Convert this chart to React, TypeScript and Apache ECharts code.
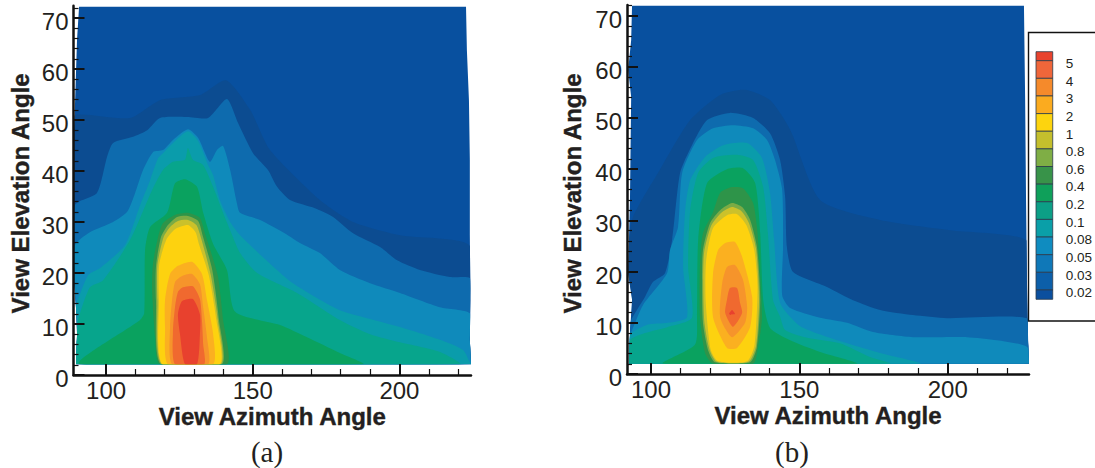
import React, { useEffect, useRef } from "react";
import * as echarts from "echarts";

type Pt = number[];

const legendLabels = ["5", "4", "3", "2", "1", "0.8", "0.6", "0.4", "0.2", "0.1", "0.08", "0.05", "0.03", "0.02"];
// colours from the lowest band to the highest band
const bandColors = ["#08509f", "#0c4c91", "#0e6bae", "#0f8abb", "#0a9cab", "#07a58c", "#0aa25f", "#2e9449", "#7cab45", "#cbc12b", "#fdd20f", "#fbb020", "#f6942b", "#f0692f", "#e8412e"];
const legendColors = ["#0b4f9e", "#0c5fa9", "#0f78b8", "#0f8cc0", "#0a9fa8", "#0c9f86", "#0fa05a", "#389349", "#7fae45", "#c4bf2d", "#fdd40e", "#fbab1f", "#f58a2b", "#f0663a", "#e8432e"];

const majorAz = [100, 150, 200];
const minorAz = [110, 120, 130, 140, 160, 170, 180, 190, 210, 220];
const majorEl = [0, 10, 20, 30, 40, 50, 60, 70];
const minorEl = [2, 4, 6, 8, 12, 14, 16, 18, 22, 24, 26, 28, 32, 34, 36, 38, 42, 44, 46, 48, 52, 54, 56, 58, 62, 64, 66, 68, 72];

// Panel (a): [azimuth, elevation]
const aLeftEdge: Pt[] = [[90.8, 72.2], [90.1, 65.7], [89.8, 60.2], [89.1, 47.4], [88.9, 34.3], [89.1, 18.6], [89.8, 12.7], [90.1, 8.0], [89.8, 2.1]];
const aRightEdge: Pt[] = [[224.4, 2.1], [224.0, 6.9], [224.2, 14.7], [224.0, 27.6], [224.0, 42.2], [223.7, 53.9], [223.0, 63.7], [222.7, 72.2]];
const aBand1: Pt[] = [[89.4, 51.0], [108.2, 50.4], [118.4, 53.9], [132.0, 54.9], [140.9, 57.8], [149.1, 52.0], [155.9, 44.1], [172.9, 34.3], [184.2, 30.0], [200.2, 27.4], [223.7, 25.5]];
const aBand2: Pt[] = [[89.4, 33.3], [96.9, 35.7], [100.3, 42.7], [102.4, 45.5], [109.2, 46.7], [114.0, 48.0], [118.4, 50.4], [127.6, 50.6], [134.8, 50.4], [141.2, 54.1], [145.0, 49.4], [150.1, 43.5], [155.2, 40.2], [158.3, 36.9], [162.7, 34.3], [171.2, 32.7], [177.4, 31.0], [184.2, 27.8], [193.4, 25.1], [199.2, 22.5], [207.0, 20.6], [217.2, 19.2], [224.0, 19.0]];
const aBand3: Pt[] = [[89.4, 25.5], [94.5, 28.0], [102.4, 30.0], [107.2, 32.0], [109.9, 35.7], [112.6, 40.2], [116.0, 43.7], [119.4, 44.1], [122.8, 46.1], [127.9, 48.2], [131.4, 46.5], [135.4, 41.8], [137.8, 44.1], [139.9, 44.9], [142.3, 40.2], [144.6, 33.7], [145.7, 31.8], [152.5, 30.4], [160.3, 28.0], [166.1, 25.9], [172.9, 23.9], [179.7, 20.6], [190.0, 18.0], [200.2, 16.1], [213.8, 13.3], [224.0, 12.1]];
const aBand4: Pt[] = [[89.8, 13.7], [93.9, 19.6], [98.0, 21.0], [106.5, 25.5], [111.6, 33.3], [115.0, 38.2], [117.7, 42.5], [119.4, 43.5], [122.8, 45.5], [127.9, 47.8], [131.4, 45.9], [134.8, 41.2], [136.5, 39.2], [138.8, 34.3], [142.3, 30.0], [145.7, 27.4], [153.5, 23.1], [163.7, 18.0], [179.7, 12.7], [190.0, 11.0], [200.2, 9.4], [213.8, 6.9], [221.7, 4.9], [224.0, 2.5]];
const aBand5: Pt[] = [[90.5, 10.8], [94.5, 17.2], [99.0, 18.6], [108.2, 26.5], [115.7, 36.3], [119.4, 40.2], [122.8, 41.8], [126.9, 42.2], [127.9, 44.5], [129.6, 42.2], [133.1, 41.2], [136.5, 36.9], [139.9, 31.8], [143.0, 27.4], [145.7, 23.9], [151.5, 20.0], [165.1, 16.1], [179.7, 10.8], [190.0, 8.0], [200.2, 6.4], [213.8, 4.5], [220.6, 2.1]];
const aBand6: Pt[] = [[91.1, 2.1], [111.6, 10.8], [113.0, 12.1], [113.3, 24.5], [115.0, 29.0], [120.8, 31.8], [123.5, 37.6], [126.9, 38.4], [131.0, 36.9], [133.1, 31.8], [136.5, 25.7], [141.2, 20.6], [144.0, 12.4], [159.3, 9.8], [168.5, 7.4], [179.7, 4.3], [187.6, 2.1]];
const aBand7: Pt[] = [[118.4, 2.1], [116.7, 7.4], [115.7, 16.7], [116.0, 21.9], [117.7, 27.0], [119.4, 29.8], [123.5, 31.4], [127.9, 31.8], [132.0, 30.8], [133.7, 27.8], [136.1, 23.5], [138.2, 19.2], [139.9, 10.8], [141.2, 2.1]];
const aBand8: Pt[] = [[118.7, 2.1], [117.0, 14.7], [117.0, 21.2], [118.7, 27.0], [121.1, 29.4], [124.2, 31.0], [127.9, 31.2], [131.4, 30.2], [133.0, 27.2], [136.2, 20.6], [138.5, 10.8], [139.5, 2.1]];
const aBand9: Pt[] = [[119.0, 2.1], [117.5, 14.7], [117.5, 21.6], [119.6, 27.0], [121.8, 29.0], [124.5, 30.2], [127.9, 30.4], [130.8, 29.4], [132.5, 26.6], [135.7, 19.6], [138.1, 10.8], [139.1, 2.1]];
const aBand10: Pt[] = [[119.2, 2.1], [118.0, 14.7], [118.1, 21.6], [120.6, 26.6], [123.5, 28.6], [127.9, 29.4], [130.5, 28.0], [131.6, 25.8], [135.0, 19.6], [137.6, 10.8], [138.8, 2.1]];
const aBand11: Pt[] = [[121.1, 2.1], [120.1, 9.4], [120.1, 14.7], [121.8, 19.8], [124.5, 21.4], [129.3, 22.2], [132.7, 19.8], [134.4, 14.7], [136.5, 8.0], [136.5, 2.1]];
const aBand12: Pt[] = [[122.5, 2.1], [121.8, 9.4], [122.5, 14.7], [123.5, 18.2], [125.9, 19.4], [129.3, 19.8], [132.0, 17.8], [133.1, 13.3], [134.4, 7.4], [134.8, 2.1]];
const aBand13: Pt[] = [[123.5, 2.1], [122.8, 8.6], [123.5, 13.3], [124.5, 16.3], [126.2, 17.2], [129.6, 17.4], [132.0, 14.9], [132.7, 10.6], [133.1, 6.1], [133.4, 2.1]];
const aBand14: Pt[] = [[126.9, 2.1], [125.2, 8.0], [124.5, 11.9], [125.9, 14.5], [129.6, 14.9], [132.0, 11.9], [132.0, 8.0], [131.0, 2.1]];

// Panel (b): [azimuth, elevation]
const bLeftEdge: Pt[] = [[93.6, 71.9], [93.3, 65.2], [92.3, 59.4], [93.3, 54.1], [92.9, 34.0], [92.3, 19.7], [93.6, 14.5], [92.9, 8.0], [92.6, 2.0]];
const bRightEdge: Pt[] = [[227.4, 2.0], [227.1, 6.6], [226.7, 18.4], [226.4, 34.0], [226.1, 53.5], [225.7, 71.9]];
const bBand1: Pt[] = [[93.6, 30.1], [103.0, 39.9], [113.2, 49.6], [123.3, 54.5], [131.7, 55.5], [140.1, 53.5], [146.9, 47.7], [157.0, 34.0], [177.2, 30.1], [200.8, 28.1], [226.4, 26.2]];
const bBand2: Pt[] = [[93.0, 10.2], [98.0, 15.1], [100.7, 18.0], [104.7, 19.7], [107.1, 26.2], [109.8, 39.3], [113.8, 44.7], [118.9, 49.6], [126.6, 51.0], [134.4, 50.0], [140.1, 47.0], [143.5, 41.8], [145.2, 34.6], [145.8, 24.8], [147.9, 19.9], [159.3, 17.0], [168.1, 14.4], [177.2, 12.5], [188.3, 11.5], [199.8, 10.9], [226.7, 10.9]];
const bBand3: Pt[] = [[93.3, 8.2], [97.3, 13.5], [105.4, 19.7], [106.4, 24.2], [109.1, 28.7], [110.5, 39.3], [115.5, 45.7], [120.9, 48.0], [127.6, 48.6], [134.4, 48.0], [139.1, 45.7], [141.8, 41.8], [144.2, 36.0], [144.5, 24.8], [144.2, 15.4], [146.9, 12.9], [157.0, 11.0], [166.1, 10.0], [174.8, 8.2], [188.3, 7.2], [206.5, 7.2], [216.6, 6.6], [226.7, 5.3]];
const bBand4: Pt[] = [[92.9, 7.6], [98.7, 9.6], [105.7, 10.0], [112.1, 11.1], [110.8, 20.9], [111.5, 32.0], [113.2, 37.9], [118.2, 42.4], [124.3, 44.7], [132.4, 45.1], [137.4, 42.2], [140.1, 35.4], [141.5, 26.2], [143.5, 13.9], [149.6, 9.6], [154.6, 8.2], [166.1, 6.0], [177.2, 4.1], [190.7, 2.0]];
const bBand5: Pt[] = [[92.9, 6.6], [98.0, 8.0], [105.7, 9.2], [113.8, 11.0], [112.5, 20.9], [113.2, 32.0], [115.9, 39.3], [120.9, 42.2], [129.0, 42.8], [134.4, 41.8], [137.8, 36.5], [139.4, 27.5], [141.1, 14.5], [143.5, 11.2], [145.2, 8.6], [151.9, 7.2], [163.7, 6.0], [173.8, 3.3], [180.6, 2.0]];
const bBand6: Pt[] = [[104.1, 2.0], [114.8, 5.7], [115.5, 11.1], [115.9, 26.2], [118.9, 37.3], [125.6, 40.0], [131.0, 40.2], [135.1, 37.3], [136.8, 27.5], [137.8, 14.5], [140.1, 9.0], [146.9, 6.6], [157.0, 4.3], [169.4, 2.0]];
const bBand7: Pt[] = [[120.9, 2.0], [118.2, 4.1], [116.5, 11.1], [116.5, 21.3], [117.5, 27.5], [120.9, 31.6], [123.3, 35.4], [127.3, 36.5], [131.0, 36.3], [134.4, 33.4], [135.7, 28.7], [136.4, 22.9], [137.4, 11.1], [136.1, 5.3], [134.4, 2.0]];
const bBand8: Pt[] = [[121.6, 2.3], [119.2, 4.7], [117.5, 10.0], [117.2, 17.8], [117.5, 24.2], [119.9, 29.5], [123.3, 32.0], [127.3, 33.4], [130.7, 32.6], [133.4, 30.1], [135.7, 24.8], [136.8, 14.5], [135.7, 5.3], [133.4, 2.3]];
const bBand9: Pt[] = [[122.2, 2.4], [119.7, 4.8], [118.0, 10.0], [117.6, 17.8], [117.9, 23.8], [120.3, 29.0], [123.7, 31.5], [127.3, 32.6], [130.5, 31.8], [133.0, 29.5], [135.4, 24.4], [136.4, 14.5], [135.4, 5.5], [132.9, 2.4]];
const bBand10: Pt[] = [[122.6, 2.5], [120.1, 4.8], [118.4, 14.5], [118.6, 22.3], [120.9, 28.5], [125.6, 31.0], [129.0, 31.2], [132.2, 29.0], [134.8, 24.2], [135.9, 17.0], [134.9, 5.7], [132.4, 2.5]];
const bBand11: Pt[] = [[125.0, 25.6], [128.3, 25.8], [130.7, 22.9], [134.1, 15.0], [133.4, 9.2], [129.0, 5.1], [125.6, 5.1], [120.9, 11.1], [120.9, 19.7], [122.6, 24.2]];
const bBand12: Pt[] = [[125.6, 20.9], [128.3, 21.3], [131.0, 18.4], [132.4, 13.1], [131.7, 10.0], [127.3, 7.2], [123.3, 11.1], [124.0, 17.8]];
const bBand13: Pt[] = [[126.6, 16.8], [129.0, 16.8], [130.0, 13.9], [130.7, 11.9], [127.6, 9.2], [125.0, 11.9], [125.6, 14.5]];
const bBand14: Pt[] = [[127.3, 12.5], [128.3, 11.7], [126.3, 11.7]];

function closeBand(c: Pt[], left: Pt[], right: Pt[]): Pt[] {
  const s = c[0];
  const e = c[c.length - 1];
  const out = [...c];
  if (e[0] > right[0][0] - 4) out.push(...right.filter((p) => p[1] < e[1]).reverse());
  if (s[0] < left[0][0] + 4) out.push(...left.filter((p) => p[1] < s[1]).reverse());
  return out;
}

function panelBands(left: Pt[], right: Pt[], bands: Pt[][]): Pt[][] {
  const domain = [...left, ...right];
  return [domain, ...bands.map((b) => closeBand(b, left, right))];
}

const aBands = panelBands(aLeftEdge, aRightEdge, [aBand1, aBand2, aBand3, aBand4, aBand5, aBand6, aBand7, aBand8, aBand9, aBand10, aBand11, aBand12, aBand13, aBand14]);
const bBands = panelBands(bLeftEdge, bRightEdge, [bBand1, bBand2, bBand3, bBand4, bBand5, bBand6, bBand7, bBand8, bBand9, bBand10, bBand11, bBand12, bBand13, bBand14]);

const SANS = '"Liberation Sans", Arial, sans-serif';
const INK = "#231f20";

function contourSeries(bands: Pt[][], axisIndex: number) {
  return {
    type: "custom",
    xAxisIndex: axisIndex,
    yAxisIndex: axisIndex,
    coordinateSystem: "cartesian2d",
    clip: false,
    silent: true,
    z: 1,
    data: bands.map((b, i) => [b[0][0], b[0][1], i]),
    renderItem: (_: any, api: any) => {
      const i = api.value(2);
      const domain = bands[0].map((p) => api.coord(p));
      return {
        type: "polygon",
        shape: { points: i === 0 ? domain : bands[i].map((p) => api.coord(p)), smooth: i === 0 ? 0 : 0.22 },
        style: { fill: bandColors[i], stroke: "none" },
        clipPath: i === 0 ? undefined : { type: "polygon", shape: { points: domain } },
      };
    },
  };
}

function xAxes(grid: number, min: number, max: number) {
  const common = { gridIndex: grid, type: "value", min, max, splitLine: { show: false }, z: 5 };
  return [
    {
      ...common,
      axisLine: { show: true, onZero: false, lineStyle: { color: "#111", width: 2.5 } },
      axisTick: { show: true, inside: true, length: 11, customValues: majorAz, lineStyle: { color: "#111", width: 2 } },
      axisLabel: { show: true, customValues: majorAz, color: INK, fontFamily: SANS, fontSize: 24, margin: 3, hideOverlap: false },
      name: "View Azimuth Angle",
      nameLocation: "middle",
      nameGap: 29,
      nameMoveOverlap: false,
      nameTextStyle: { color: INK, fontFamily: SANS, fontWeight: "bold", fontSize: 24, textBorderColor: INK, textBorderWidth: 0.4 },
    },
    {
      ...common,
      axisLine: { show: false },
      axisTick: { show: true, inside: true, length: 6, customValues: minorAz, lineStyle: { color: "#111", width: 1.2 } },
      axisLabel: { show: false },
    },
  ];
}

function yAxes(grid: number, max: number, titleShift: number, titleGap: number) {
  const common = { gridIndex: grid, type: "value", min: 0, max, splitLine: { show: false }, z: 5 };
  return [
    {
      ...common,
      axisLine: { show: true, onZero: false, lineStyle: { color: "#111", width: 2.5 } },
      axisTick: { show: true, inside: true, length: 11, customValues: majorEl, lineStyle: { color: "#111", width: 2 } },
      axisLabel: { show: true, customValues: majorEl, color: INK, fontFamily: SANS, fontSize: 24, margin: 5, verticalAlign: "top", padding: [-8.5, 0, 0, 0], hideOverlap: false },
      name: "View Elevation Angle",
      nameLocation: "middle",
      nameGap: titleGap,
      nameMoveOverlap: false,
      nameTextStyle: { color: INK, fontFamily: SANS, fontWeight: "bold", fontSize: 24, textBorderColor: INK, textBorderWidth: 0.4, padding: [0, titleShift, 0, 0] },
    },
    {
      ...common,
      axisLine: { show: false },
      axisTick: { show: true, inside: true, length: 5, customValues: minorEl, lineStyle: { color: "#111", width: 1.2 } },
      axisLabel: { show: false },
    },
  ];
}

export default function App() {
  const ref = useRef<HTMLDivElement>(null);
  useEffect(() => {
    document.body.style.margin = "0";
    document.body.style.background = "#fff";
    const chart = echarts.init(ref.current!, undefined, { renderer: "svg" });
    const [ax0, ax1] = xAxes(0, 88.9, 224.4);
    const [bx0, bx1] = xAxes(1, 91.9, 227.4);
    const [ay0, ay1] = yAxes(0, 72.4, 6, 41);
    const [by0, by1] = yAxes(1, 72.07, 8, 43);
    const top = legendColors.length - 1;
    chart.setOption({
      animation: false,
      backgroundColor: "#fff",
      grid: [
        { left: 73.5, width: 397.5, top: 5.8, height: 369.2 },
        { left: 627, width: 402, top: 5, height: 369 },
        { left: 1036, width: 23.3, top: 51.7, height: 247.6 },
        { left: 73.5, width: 397.5, top: 5.8, height: 369.2, show: false },
        { left: 627, width: 402, top: 5, height: 369, show: false },
      ],
      xAxis: [
        ax0,
        bx0,
        { gridIndex: 2, type: "value", min: 0, max: 1, show: false },
        { ...ax1, gridIndex: 3 },
        { ...bx1, gridIndex: 4 },
      ],
      yAxis: [
        ay0,
        by0,
        {
          gridIndex: 2,
          type: "value",
          inverse: true,
          min: -0.51,
          max: 13.53,
          position: "right",
          splitLine: { show: false },
          axisLine: { show: false },
          axisTick: { show: false },
          axisLabel: {
            customValues: legendLabels.map((_, i) => i),
            formatter: (v: number) => legendLabels[Math.round(v)],
            color: INK,
            fontFamily: SANS,
            fontSize: 13.5,
            margin: 13,
            align: "left",
            verticalAlign: "top",
            padding: [-4.2, 0, 0, 0],
            hideOverlap: false,
          },
        },
        { ...ay1, gridIndex: 3 },
        { ...by1, gridIndex: 4 },
      ],
      series: [
        contourSeries(aBands, 0),
        contourSeries(bBands, 1),
        {
          type: "custom",
          xAxisIndex: 2,
          yAxisIndex: 2,
          coordinateSystem: "cartesian2d",
          silent: true,
          clip: false,
          data: legendColors.map((_, i) => [0, i]),
          renderItem: (_: any, api: any) => {
            const i = api.value(1);
            const y0 = i === 0 ? -0.51 : i - 1;
            const y1 = i === top ? 13.53 : i;
            const a = api.coord([0, y0]);
            const b = api.coord([1, y1]);
            return {
              type: "rect",
              shape: { x: a[0], y: a[1], width: b[0] - a[0], height: b[1] - a[1] },
              style: { fill: legendColors[top - i], stroke: "#2b3a4a", lineWidth: 0.8 },
            };
          },
        },
      ],
      graphic: [
        { type: "rect", silent: true, z: 10, shape: { x: 1028.5, y: 32.5, width: 90, height: 288.5 }, style: { fill: "none", stroke: "#111", lineWidth: 1.4 } },
        { type: "text", silent: true, x: 267, y: 452, style: { text: "(a)", fill: INK, font: '29px "Liberation Serif", serif', textAlign: "center", textVerticalAlign: "middle" } },
        { type: "text", silent: true, x: 792, y: 452, style: { text: "(b)", fill: INK, font: '29px "Liberation Serif", serif', textAlign: "center", textVerticalAlign: "middle" } },
      ],
    });
    return () => chart.dispose();
  }, []);
  return <div ref={ref} style={{ position: "absolute", left: 0, top: 0, width: 1095, height: 468 }} />;
}
